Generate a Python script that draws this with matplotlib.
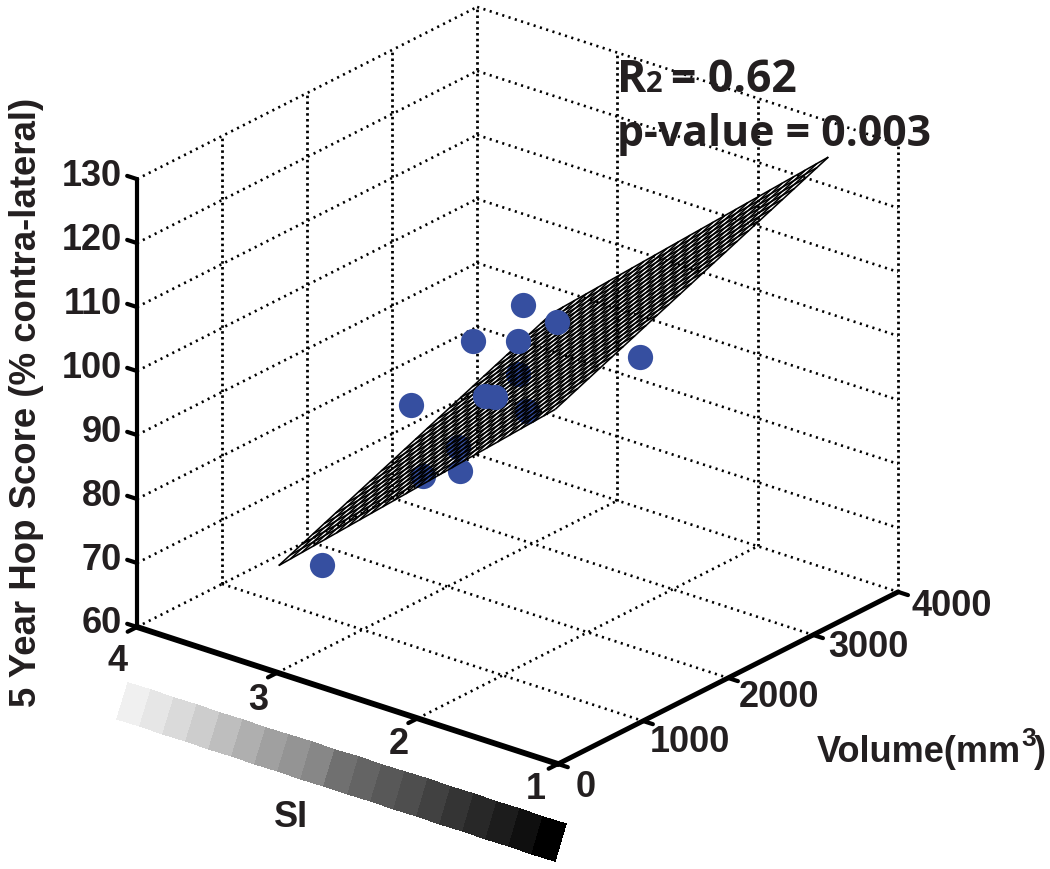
import numpy as np
import matplotlib
matplotlib.use("Agg")
import matplotlib.pyplot as plt
from mpl_toolkits.mplot3d import proj3d

# ---- data ----
si_ticks = [4, 3, 2, 1]
vol_ticks = [0, 1000, 2000, 3000, 4000]
score_ticks = [60, 70, 80, 90, 100, 110, 120, 130]

# points seen behind the fitted plane
si_back = [1.8, 1.7, 2.3, 2.4, 2.2]
vol_back = [850, 791, 969, 722, 828]
score_back = [109.5, 104.8, 93.7, 90.2, 91.7]
# points seen in front of the fitted plane
si_front = [3.0, 2.6, 2.2, 1.6, 1.8, 1.5, 1.2, 2.0, 1.9]
vol_front = [525, 912, 981, 579, 850, 814, 1296, 792, 745]
score_front = [73.3, 98.5, 110.9, 123.5, 114.7, 120.0, 113.4, 105.0, 106.0]

# fitted plane: score = fit_const + fit_si * SI + fit_vol * volume
fit_const = 135.2
fit_si = -19.53
fit_vol = 0.00555
fit_si_range = (1.02, 2.99)
fit_vol_range = (0, 3212)
mesh_n = 24

si_strip_grays = [240, 230, 218, 205, 190, 175, 160, 148, 135, 112,
                  100, 88, 78, 65, 52, 40, 28, 15, 0]

# ---- figure and 3-D axes ----
W, H = 1050, 870
TXT = "#231f20"
BLUE = "#364fa0"
fig = plt.figure(figsize=(W / 100, H / 100), dpi=100, facecolor="white")
ax = fig.add_axes([0, 0, 1, 1], projection="3d", computed_zorder=False)
ax.set_proj_type("ortho")
ax.set_xlim(4, 1, view_margin=0)
ax.set_ylim(0, 4000, view_margin=0)
ax.set_zlim(60, 130, view_margin=0)
ax.set_box_aspect((539.6, 543.6, 490))
ax.view_init(elev=23.94, azim=-51.27)
ax.set_axis_off()


def project(x, y, z):
    px, py, _ = proj3d.proj_transform(x, y, z, ax.get_proj())
    return float(px), float(py)


# place the axes so that the box lands where the reference has it
fa = ax.transLimits.transform(project(4, 0, 60))   # far end of SI axis: pixel (137, 628)
fb = ax.transLimits.transform(project(1, 0, 60))   # corner: pixel (558, 765)
side = 421 / abs(fb[0] - fa[0])
left = 558 - fb[0] * side
bottom = (H - 765) - fb[1] * side
ax.set_position([left / W, bottom / H, side / W, side / H])

grid_kw = dict(color="black", lw=1.9, ls=(0, (0.8, 1.7)), zorder=1, dash_capstyle="butt")
wall_kw = dict(color="black", lw=2.0, ls=(0, (0.9, 1.2)), zorder=1, dash_capstyle="butt")
for z in score_ticks:
    ax.plot([4, 4], [0, 4000], [z, z], **grid_kw)
    ax.plot([4, 1], [4000, 4000], [z, z], **grid_kw)
for v in vol_ticks[1:]:
    ax.plot([4, 4], [v, v], [60, 130], **wall_kw)
for s in si_ticks[1:]:
    ax.plot([s, s], [4000, 4000], [60, 130], **wall_kw)
for v in vol_ticks[1:-1]:
    ax.plot([4, 1], [v, v], [60, 60], **grid_kw)
for s in si_ticks[1:-1]:
    ax.plot([s, s], [0, 4000], [60, 60], **grid_kw)

# bold axes and ticks
ax.plot([4, 4], [0, 0], [60, 130], color="black", lw=3.0, zorder=2, solid_capstyle="round")
ax.plot([4, 1], [0, 0], [60, 60], color="black", lw=4.2, zorder=2, solid_capstyle="round")
ax.plot([1, 1], [0, 4000], [60, 60], color="black", lw=3.6, zorder=2, solid_capstyle="round")
tick_kw = dict(color="black", lw=3.0, zorder=2, solid_capstyle="round")
for z in score_ticks:
    ax.plot([4, 4.07], [0, 0], [z, z], **tick_kw)
for s in si_ticks:
    ax.plot([s, s], [0, -110], [60, 60], **tick_kw)
for v in vol_ticks:
    ax.plot([1, 0.93], [v, v], [60, 60], **tick_kw)

# points behind, mesh, points in front
ax.scatter(si_back, vol_back, score_back, s=330, c=BLUE, depthshade=False,
           linewidths=0, zorder=3)
S, V = np.meshgrid(np.linspace(*fit_si_range, mesh_n + 1),
                   np.linspace(*fit_vol_range, mesh_n + 1))
Z = fit_const + fit_si * S + fit_vol * V
ax.plot_wireframe(S, V, Z, rcount=mesh_n + 1, ccount=mesh_n + 1, color="black",
                  linewidth=1.15, zorder=4)
ax.scatter(si_front, vol_front, score_front, s=330, c=BLUE, depthshade=False,
           linewidths=0, zorder=5)

# tick labels, offset in pixels from their ticks
tick_font = dict(family="Liberation Sans", fontweight="bold", fontsize=26, color=TXT,
                 annotation_clip=False, textcoords="offset pixels", zorder=6)
for z in score_ticks:
    ax.annotate(str(z), xy=project(4, 0, z), xytext=(-15, 4), ha="right", va="center", **tick_font)
si_offsets = [(-19, -34), (-19, -27), (-19, -25), (-22, -25)]
for s, off in zip(si_ticks, si_offsets):
    ax.annotate(str(s), xy=project(s, 0, 60), xytext=off, ha="center", va="center", **tick_font)
vol_offsets = [(28, -23), (47, -21), (51, -19), (55, -12), (54, -14)]
for v, off in zip(vol_ticks, vol_offsets):
    ax.annotate(str(v), xy=project(1, v, 60), xytext=off, ha="center", va="center", **tick_font)

# overlay in pixel units for the strip and free text
ov = fig.add_axes([0, 0, 1, 1], facecolor="none")
ov.set_xlim(0, W)
ov.set_ylim(H, 0)
ov.set_axis_off()

n = len(si_strip_grays)
t = np.linspace(0, 1, n + 1)
strip_x = np.vstack([128 + t * (566 - 128), 117 + t * (555 - 117)])
strip_y = np.vstack([684 + t * (825 - 684), 720 + t * (862 - 720)])
ov.pcolormesh(strip_x, strip_y, np.array([si_strip_grays]), cmap="gray", vmin=0, vmax=255,
              shading="flat", edgecolors="face", linewidth=0.2)

label_font = dict(family="Liberation Sans", fontweight="bold", color=TXT)
ov.text(291, 818, "SI", fontsize=26, ha="center", va="center", **label_font)
ov.text(27, 402, "5 Year Hop Score (% contra-lateral)", fontsize=26.4, rotation=90,
        ha="center", va="center", **label_font)
ov.text(817, 762, "Volume(mm", fontsize=26, ha="left", va="baseline", **label_font)
ov.text(1021, 746, "3", fontsize=19, ha="left", va="baseline", **label_font)
ov.text(1034, 762, ")", fontsize=26, ha="left", va="baseline", **label_font)

stat_font = dict(family="Open Sans", fontweight="bold", color=TXT, ha="left", va="baseline")
ov.text(617, 92, "R", fontsize=32, **stat_font)
ov.text(646, 92, "2", fontsize=21, **stat_font)
ov.text(671, 92, "= 0.62", fontsize=32, **stat_font)
ov.text(617, 146, "p-value = 0.003", fontsize=30.8, **stat_font)

fig.savefig("out.png", dpi=100, facecolor="white")
